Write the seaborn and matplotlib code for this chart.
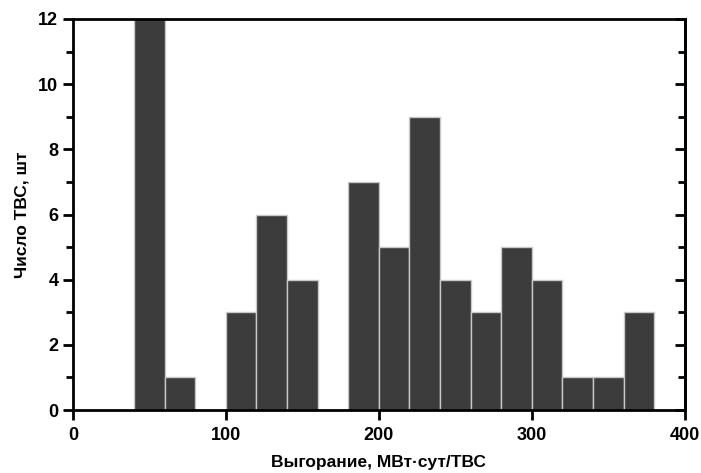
import numpy as np, pandas as pd
import matplotlib; matplotlib.use("Agg")
import matplotlib.pyplot as plt, matplotlib.ticker as mticker
import seaborn as sns

sns.set_theme(style="white")
plt.rcParams.update({"font.family": ["Liberation Sans", "DejaVu Sans"], "font.weight": "bold",
                     "text.color": "black", "axes.labelcolor": "black",
                     "xtick.color": "black", "ytick.color": "black"})

# histogram data: bin edges (MW·day/FA) and counts
bin_edges = [40, 60, 80, 100, 120, 140, 160, 180, 200, 220, 240, 260, 280, 300, 320, 340, 360, 380]
counts = [12, 1, 0, 3, 6, 4, 0, 7, 5, 9, 4, 3, 5, 4, 1, 1, 3]
centers = [(a + b) / 2 for a, b in zip(bin_edges[:-1], bin_edges[1:])]
df = pd.DataFrame({"burnup": centers, "n": counts})

fig = plt.figure(figsize=(7.01, 4.73), dpi=100)
ax = fig.add_axes([0.104, 0.133, 0.873, 0.827])
sns.histplot(data=df, x="burnup", weights="n", bins=bin_edges, ax=ax,
             color="#3c3c3c", edgecolor="#c8c8c8", linewidth=1.0, alpha=1.0)

ax.set_xlim(0, 400); ax.set_ylim(0, 12)
ax.xaxis.set_major_locator(mticker.MultipleLocator(100))
ax.yaxis.set_major_locator(mticker.MultipleLocator(2))
ax.yaxis.set_minor_locator(mticker.MultipleLocator(1))
ax.tick_params(axis="x", which="major", direction="out", length=7, width=2, labelsize=13, bottom=True, pad=5)
ax.tick_params(axis="y", which="major", direction="out", length=7, width=2, labelsize=13, left=True)
ax.tick_params(axis="y", which="minor", direction="out", length=5, width=2, left=True)
for lab in ax.get_xticklabels() + ax.get_yticklabels():
    lab.set_fontweight("bold")
sec = ax.secondary_yaxis("right")
sec.yaxis.set_major_locator(mticker.MultipleLocator(2))
sec.yaxis.set_minor_locator(mticker.MultipleLocator(1))
sec.tick_params(which="major", direction="in", length=7, width=2, labelright=False)
sec.tick_params(which="minor", direction="in", length=5, width=2)
sec.spines["right"].set_linewidth(2); sec.spines["right"].set_color("black")
for s in ax.spines.values():
    s.set_linewidth(2); s.set_color("black"); s.set_visible(True)

ax.set_xlabel("Выгорание, МВт·сут/ТВС", fontsize=12.5, fontweight="bold", labelpad=8)
ax.set_ylabel("Число ТВС, шт", fontsize=12.5, fontweight="bold", labelpad=6)
fig.savefig("out.png", dpi=100)
